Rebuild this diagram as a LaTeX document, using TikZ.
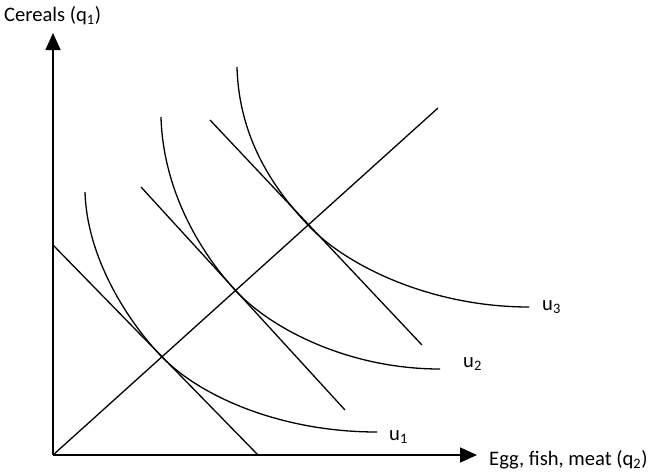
\documentclass[tikz,border=0pt]{standalone}
\usepackage{fontspec}
\setmainfont{Carlito}
\usetikzlibrary{arrows.meta}
\tikzset{
  axisline/.style={line width=1.7pt,-{Triangle[length=17pt,width=15pt]}},
  thinline/.style={line width=1.3pt},
  lbl/.style={inner sep=0pt,anchor=base west,font=\fontsize{20.6}{24}\selectfont}
}
\begin{document}
\begin{tikzpicture}[x=1pt,y=-1pt]
\useasboundingbox (0,0) rectangle (651,472);
% coordinates
\coordinate (O) at (53,455);
\coordinate (Ytip) at (53,33);
\coordinate (Xtip) at (477,455);
\coordinate (Dend) at (438,108);
\coordinate (B1s) at (53,245);
\coordinate (B1e) at (258,455);
\coordinate (B2s) at (141,187);
\coordinate (B2e) at (345,410);
\coordinate (B3s) at (210,120);
\coordinate (B3e) at (422,345);
\coordinate (T1) at (162,357);
\coordinate (T2) at (235,290);
\coordinate (T3) at (308,225);
\coordinate (U1s) at (85,192);
\coordinate (U1e) at (377,432);
\coordinate (U2s) at (161,117);
\coordinate (U2e) at (440,369);
\coordinate (U3s) at (237,67);
\coordinate (U3e) at (529,307);
% axes
\draw[axisline] (O) -- (Ytip);
\draw[axisline] (O) -- (Xtip);
% expansion path
\draw[thinline] (O) -- (Dend);
% budget lines
\draw[thinline] (B1s) -- (B1e);
\draw[thinline] (B2s) -- (B2e);
\draw[thinline] (B3s) -- (B3e);
% indifference curves
\draw[thinline] (U1s) .. controls (87,260) and (130,324) .. (T1)
  .. controls (200,396) and (280,432) .. (U1e);
\draw[thinline] (U2s) .. controls (163,190) and (200,252) .. (T2)
  .. controls (272,330) and (350,369) .. (U2e);
\draw[thinline] (U3s) .. controls (239,140) and (275,190) .. (T3)
  .. controls (345,265) and (430,307) .. (U3e);
% labels
\node[lbl] (ylab) at (4,21) {Cereals (q\textsubscript{1})};
\node[lbl] (xlab) at (489,465) {Egg, fish, meat (q\textsubscript{2})};
\node[lbl] (u1) at (389,440) {u\textsubscript{1}};
\node[lbl] (u2) at (463,367) {u\textsubscript{2}};
\node[lbl] (u3) at (542,310) {u\textsubscript{3}};
\end{tikzpicture}
\end{document}
